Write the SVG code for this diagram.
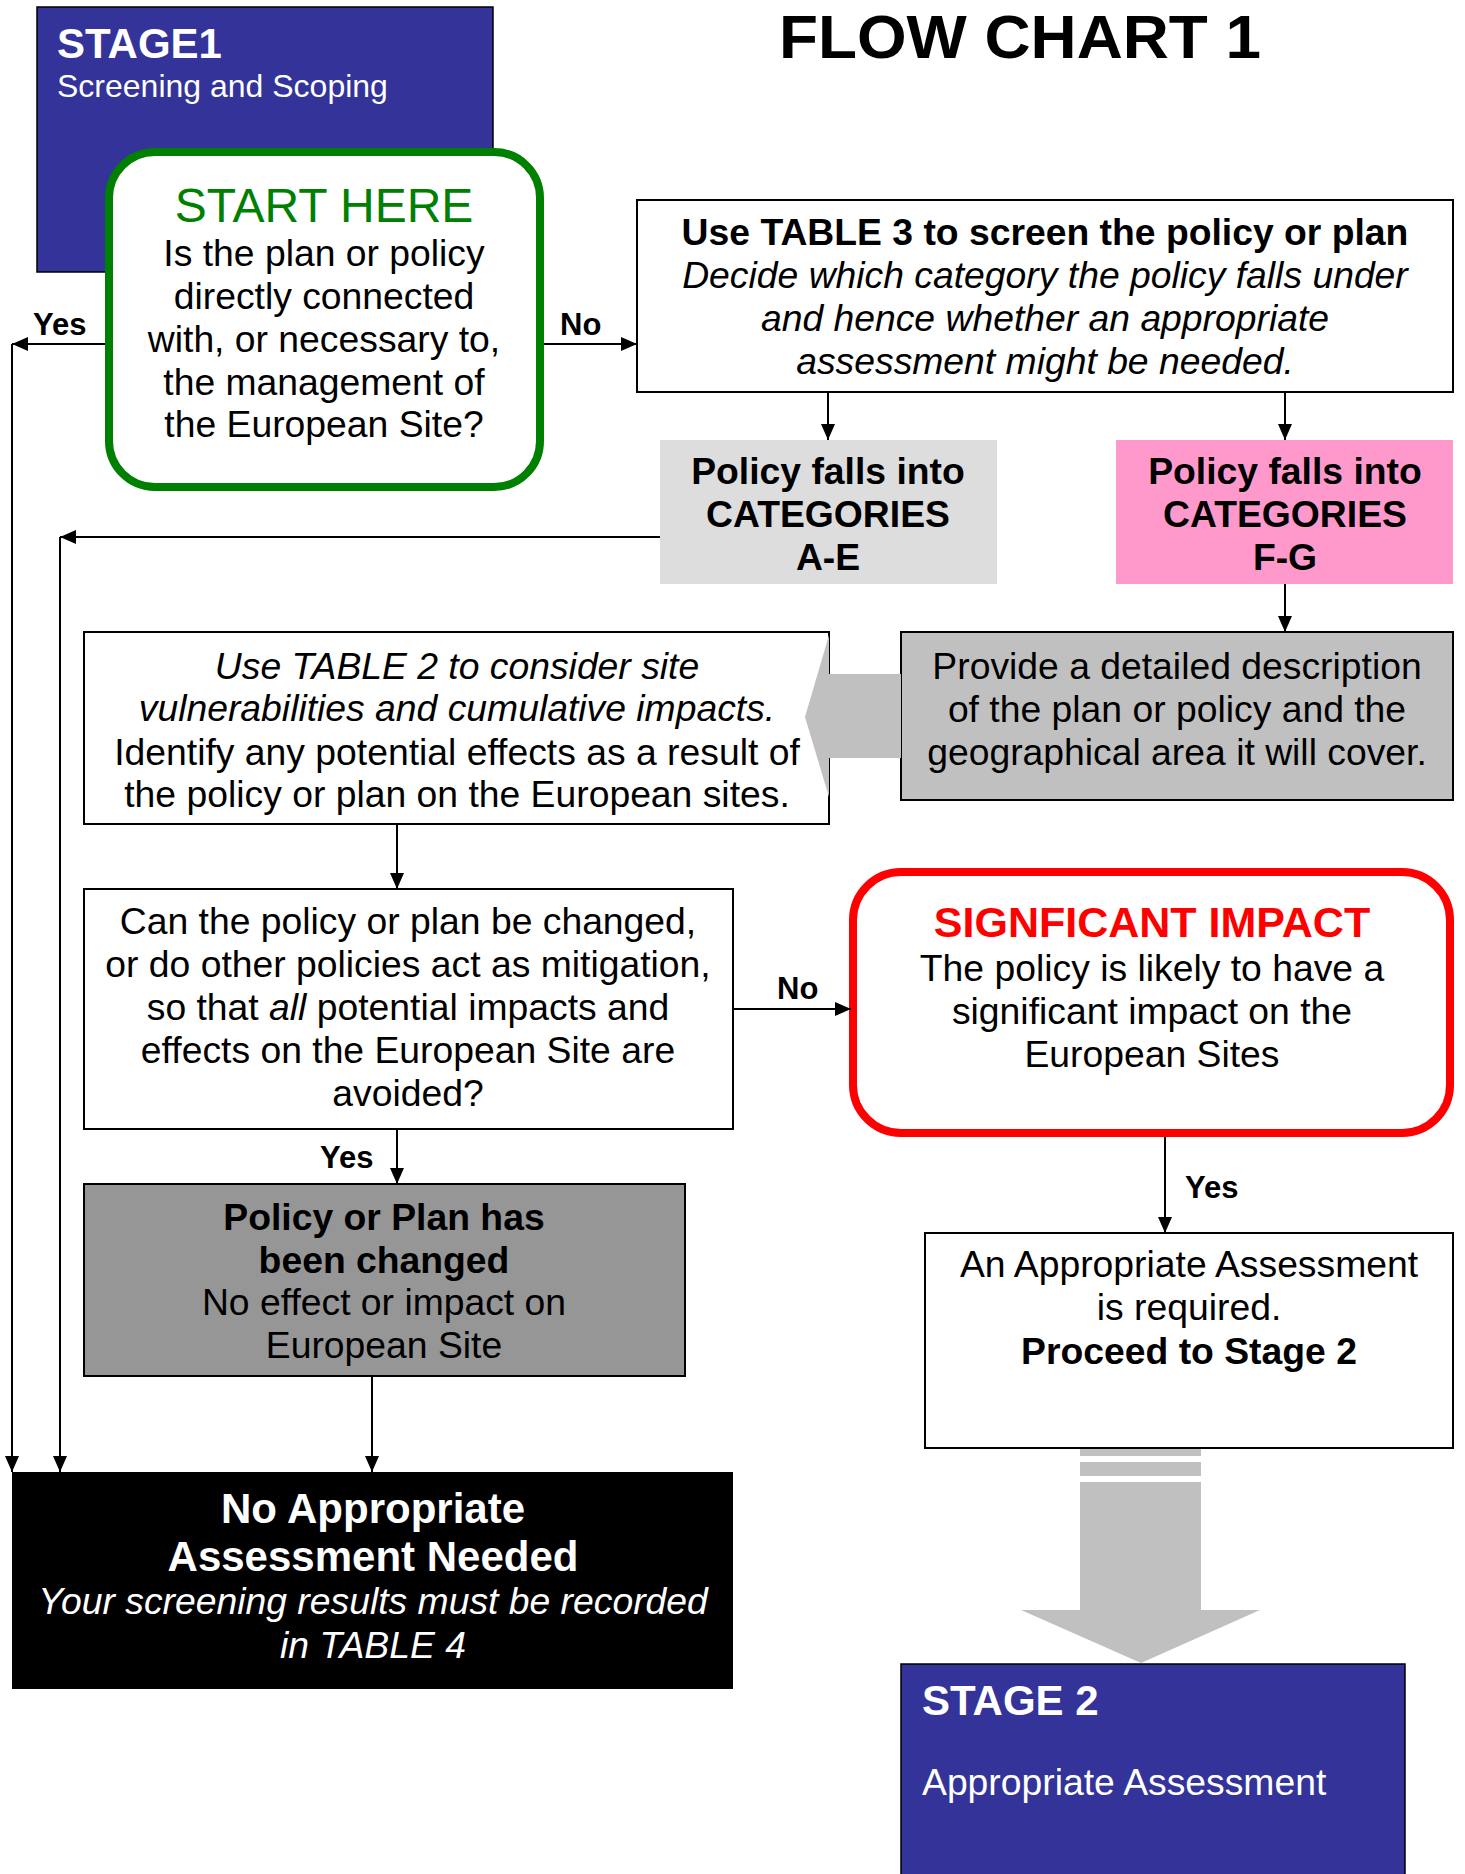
<svg xmlns="http://www.w3.org/2000/svg" width="1465" height="1874" viewBox="0 0 1465 1874">
<defs>
<style>
text{font-family:"Liberation Sans",Arial,Helvetica,sans-serif;}
.b{font-weight:bold}
.i{font-style:italic}
.m{text-anchor:middle}
.w{fill:#fff}
.s37{font-size:37.3px}
.box{stroke:#000;stroke-width:2}
.c{fill:none;stroke:#000;stroke-width:2}
.lbl{font-size:31px;font-weight:bold}
</style>
<marker id="ah" markerUnits="userSpaceOnUse" markerWidth="16" markerHeight="14" refX="16" refY="7" orient="auto">
<path d="M0,0 L16,7 L0,14 z" fill="#000"/>
</marker>
</defs>
<rect width="1465" height="1874" fill="#fff"/>

<g id="stage1">
<rect x="37" y="7" width="456" height="265" fill="#333399" stroke="#000" stroke-width="1.5"/>
<text class="b w" x="57" y="58" font-size="42">STAGE1</text>
<text class="w" x="57" y="97" font-size="32">Screening and Scoping</text>
</g>

<g id="title">
<text class="b" x="779" y="58" font-size="61" textLength="482" lengthAdjust="spacingAndGlyphs">FLOW CHART 1</text>
</g>

<g id="start">
<rect x="109" y="152" width="431" height="335" rx="46" fill="#fff" stroke="#008000" stroke-width="8"/>
<text class="m" x="324" y="222" font-size="48" fill="#008000">START HERE</text>
<text class="m s37" x="324" y="266">Is the plan or policy</text>
<text class="m s37" x="324" y="309">directly connected</text>
<text class="m s37" x="324" y="352">with, or necessary to,</text>
<text class="m s37" x="324" y="395">the management of</text>
<text class="m s37" x="324" y="437">the European Site?</text>
</g>

<g id="table3">
<rect class="box" x="637" y="200" width="816" height="192" fill="#fff"/>
<text class="m s37 b" x="1045" y="245">Use TABLE 3 to screen the policy or plan</text>
<text class="m s37 i" x="1045" y="288">Decide which category the policy falls under</text>
<text class="m s37 i" x="1045" y="331">and hence whether an appropriate</text>
<text class="m s37 i" x="1045" y="374">assessment might be needed.</text>
</g>

<g id="catAE">
<rect x="660" y="440" width="337" height="144" fill="#dddddd"/>
<text class="m s37 b" x="828" y="484">Policy falls into</text>
<text class="m s37 b" x="828" y="527">CATEGORIES</text>
<text class="m s37 b" x="828" y="570">A-E</text>
</g>

<g id="catFG">
<rect x="1116" y="440" width="337" height="144" fill="#ff99cc"/>
<text class="m s37 b" x="1285" y="484">Policy falls into</text>
<text class="m s37 b" x="1285" y="527">CATEGORIES</text>
<text class="m s37 b" x="1285" y="570">F-G</text>
</g>

<g id="provide">
<rect class="box" x="901" y="632" width="552" height="168" fill="#c0c0c0"/>
<text class="m s37" x="1177" y="679">Provide a detailed description</text>
<text class="m s37" x="1177" y="722">of the plan or policy and the</text>
<text class="m s37" x="1177" y="765">geographical area it will cover.</text>
</g>

<g id="table2">
<rect class="box" x="84" y="632" width="745" height="192" fill="#fff"/>
<text class="m s37 i" x="457" y="679">Use TABLE 2 to consider site</text>
<text class="m s37 i" x="457" y="721">vulnerabilities and cumulative impacts.</text>
<text class="m s37" x="457" y="765">Identify any potential effects as a result of</text>
<text class="m s37" x="457" y="807">the policy or plan on the European sites.</text>
</g>

<g id="decision">
<rect class="box" x="84" y="889" width="649" height="240" fill="#fff"/>
<text class="m s37" x="408" y="934">Can the policy or plan be changed,</text>
<text class="m s37" x="408" y="977">or do other policies act as mitigation,</text>
<text class="m s37" x="408" y="1020">so that <tspan class="i">all</tspan> potential impacts and</text>
<text class="m s37" x="408" y="1063">effects on the European Site are</text>
<text class="m s37" x="408" y="1106">avoided?</text>
</g>

<g id="significant">
<rect x="853" y="872" width="597" height="261" rx="48" fill="#fff" stroke="#ff0000" stroke-width="8"/>
<text class="m b" x="1152" y="937" font-size="43" fill="#ff0000">SIGNFICANT IMPACT</text>
<text class="m s37" x="1152" y="981">The policy is likely to have a</text>
<text class="m s37" x="1152" y="1024">significant impact on the</text>
<text class="m s37" x="1152" y="1067">European Sites</text>
</g>

<g id="changed">
<rect class="box" x="84" y="1184" width="601" height="192" fill="#969696"/>
<text class="m s37 b" x="384" y="1230">Policy or Plan has</text>
<text class="m s37 b" x="384" y="1273">been changed</text>
<text class="m s37" x="384" y="1315">No effect or impact on</text>
<text class="m s37" x="384" y="1358">European Site</text>
</g>

<g id="noAA">
<rect x="12" y="1472" width="721" height="217" fill="#000"/>
<text class="m b w" x="373" y="1523" font-size="42">No Appropriate</text>
<text class="m b w" x="373" y="1571" font-size="42">Assessment Needed</text>
<text class="m i w s37" x="373" y="1614">Your screening results must be recorded</text>
<text class="m i w s37" x="373" y="1658">in TABLE 4</text>
</g>

<g id="appropriate">
<rect class="box" x="925" y="1233" width="528" height="215" fill="#fff"/>
<text class="m s37" x="1189" y="1277">An Appropriate Assessment</text>
<text class="m s37" x="1189" y="1320">is required.</text>
<text class="m s37 b" x="1189" y="1364">Proceed to Stage 2</text>
</g>

<g id="stage2">
<rect x="901" y="1664" width="504" height="230" fill="#333399" stroke="#000" stroke-width="1.5"/>
<text class="b w" x="922" y="1715" font-size="42">STAGE 2</text>
<text class="w s37" x="922" y="1795">Appropriate Assessment</text>
</g>

<g id="connectors">
<polygon points="901,674 829,674 829,635 805,717 829,797 829,758 901,758" fill="#c0c0c0"/>
<rect x="1080" y="1449" width="121" height="7" fill="#c0c0c0"/>
<rect x="1080" y="1462" width="121" height="14" fill="#c0c0c0"/>
<polygon points="1080,1482 1201,1482 1201,1610 1260,1610 1141,1663 1021,1610 1080,1610" fill="#c0c0c0"/>

<path class="c" d="M105,344 H12" marker-end="url(#ah)"/>
<path class="c" d="M12,344 V1472" marker-end="url(#ah)"/>
<path class="c" d="M544,344 H637" marker-end="url(#ah)"/>
<path class="c" d="M828,392 V440" marker-end="url(#ah)"/>
<path class="c" d="M1285,392 V440" marker-end="url(#ah)"/>
<path class="c" d="M660,537 H60" marker-end="url(#ah)"/>
<path class="c" d="M60,537 V1472" marker-end="url(#ah)"/>
<path class="c" d="M1285,584 V632" marker-end="url(#ah)"/>
<path class="c" d="M397,824 V889" marker-end="url(#ah)"/>
<path class="c" d="M733,1009 H851" marker-end="url(#ah)"/>
<path class="c" d="M397,1129 V1184" marker-end="url(#ah)"/>
<path class="c" d="M372,1376 V1472" marker-end="url(#ah)"/>
<path class="c" d="M1165,1137 V1233" marker-end="url(#ah)"/>

<text class="lbl" x="33" y="335">Yes</text>
<text class="lbl" x="560" y="335">No</text>
<text class="lbl" x="777" y="999">No</text>
<text class="lbl" x="320" y="1168">Yes</text>
<text class="lbl" x="1185" y="1198">Yes</text>
</g>
</svg>
